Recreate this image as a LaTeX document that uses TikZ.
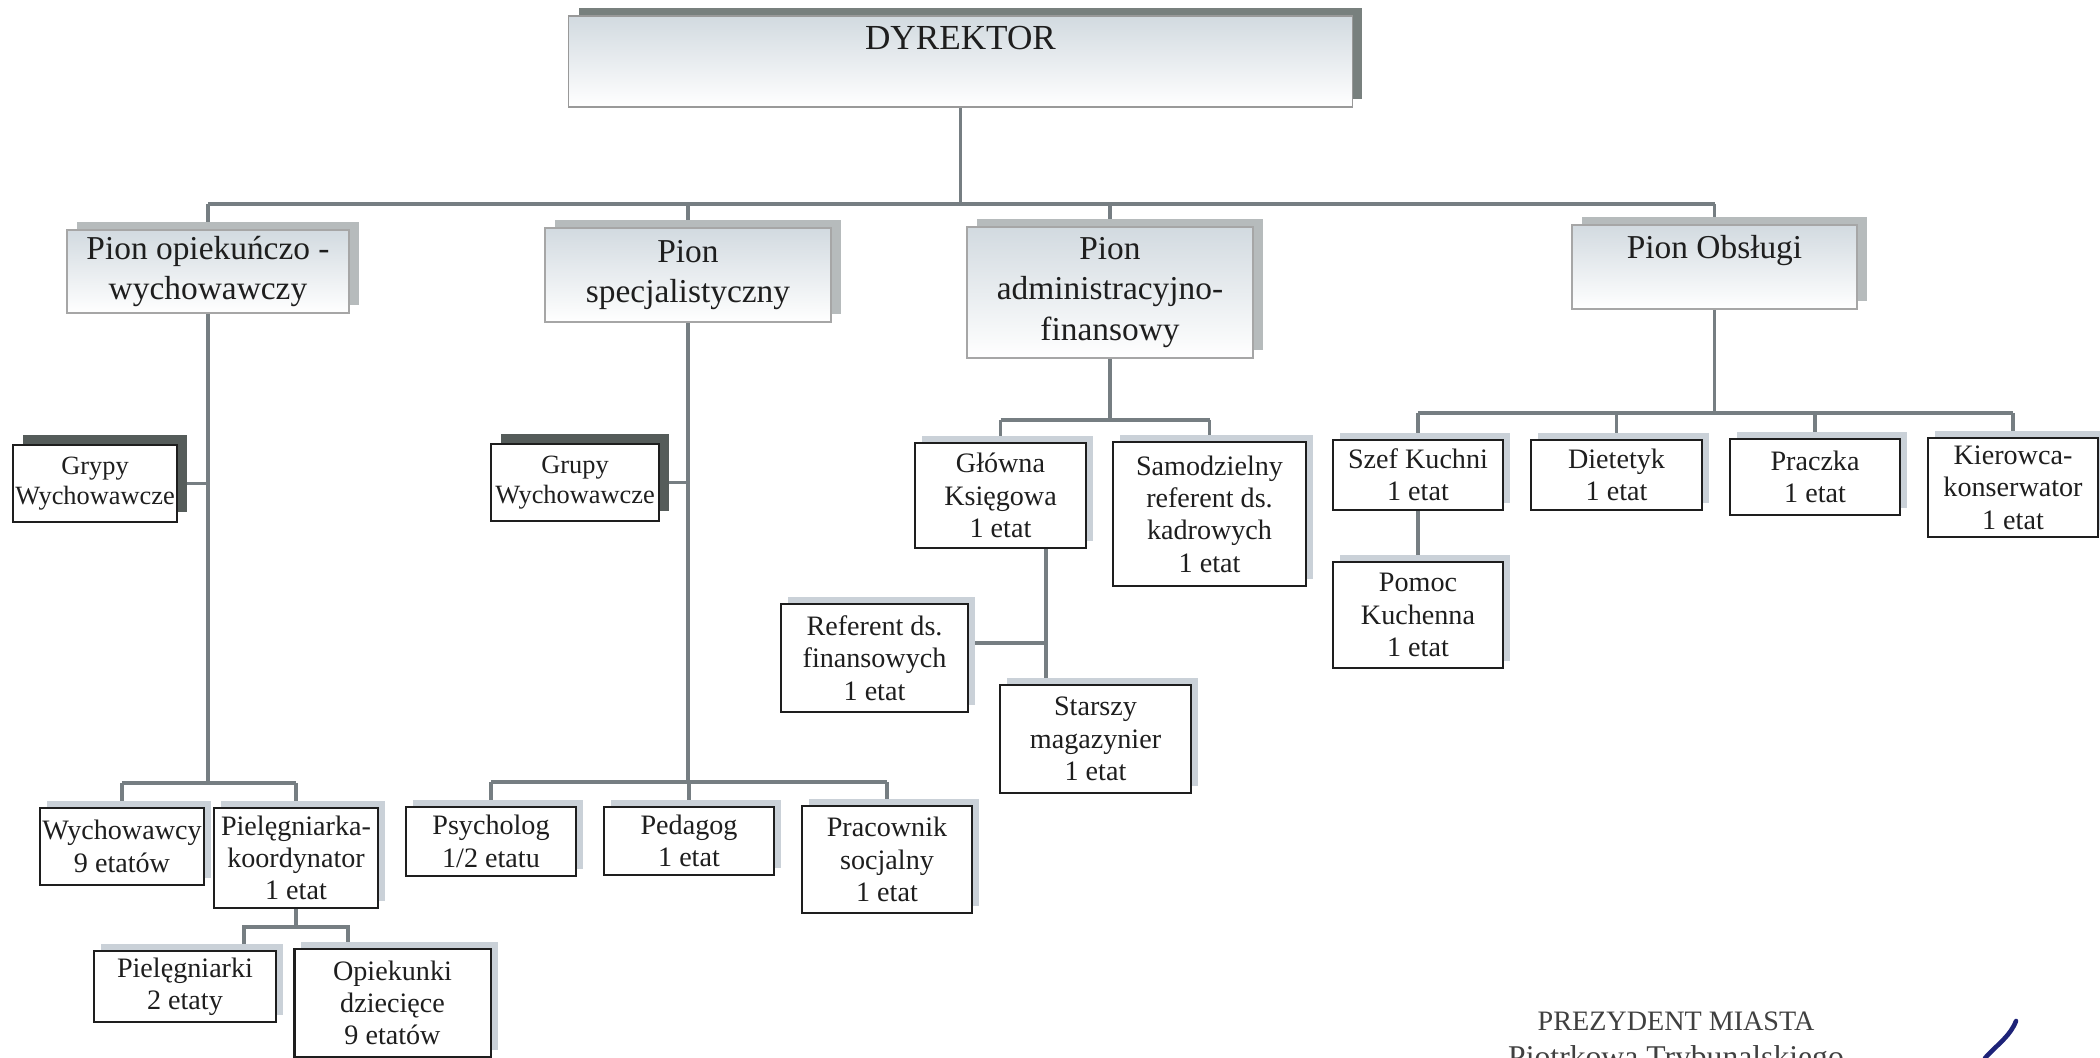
\documentclass[tikz,border=0pt]{standalone}
\usepackage{fontspec}
\setmainfont{Liberation Serif}
\usetikzlibrary{shadows,backgrounds}
\definecolor{connc}{RGB}{118,126,130}
\definecolor{shadA}{RGB}{120,128,126}
\definecolor{shadB}{RGB}{182,187,188}
\definecolor{shadC}{RGB}{85,92,90}
\definecolor{shadD}{RGB}{202,209,216}
\definecolor{boxtop}{RGB}{210,218,224}
\definecolor{ink}{RGB}{30,30,30}
\definecolor{pen}{RGB}{30,35,120}
\begin{document}
\begin{tikzpicture}[x=0.01cm, y=-0.01cm,
  box/.style={inner sep=0pt, align=center, text=ink},
  dyrbox/.style={box, draw=gray!80, line width=0.4pt, top color=boxtop, bottom color=white,
    general shadow={fill=shadA, shadow xshift=1mm, shadow yshift=0.8mm}, font=\fontsize{10}{12}\selectfont},
  pion/.style={box, draw=gray!70, line width=0.4pt, top color=boxtop, bottom color=white,
    general shadow={fill=shadB, shadow xshift=1mm, shadow yshift=0.8mm}, font=\fontsize{9.5}{11.5}\selectfont},
  grupa/.style={box, draw=ink, line width=0.5pt, fill=white,
    general shadow={fill=shadC, shadow xshift=1mm, shadow yshift=1mm}, font=\fontsize{7.5}{8.6}\selectfont},
  unit/.style={box, draw=ink, line width=0.6pt, fill=white,
    general shadow={fill=shadD, shadow xshift=0.7mm, shadow yshift=0.7mm}, font=\fontsize{8}{9.2}\selectfont},
  conn/.style={draw=connc, line width=1.1pt}]
  \path[use as bounding box] (0,0) rectangle (2100,1058);

  \node[dyrbox, minimum width=7.83cm, text height=0.34cm, text depth=0.57cm] (dyr) at (960.5,61.5) {DYREKTOR};

  \node[pion, minimum width=2.82cm, minimum height=0.83cm] (p1) at (208,271.5) {Pion opiekuńczo -\\wychowawczy};
  \node[pion, minimum width=2.86cm, minimum height=0.94cm] (p2) at (688,275) {Pion\\specjalistyczny};
  \node[pion, minimum width=2.86cm, minimum height=1.31cm] (p3) at (1110,292.5) {Pion\\administracyjno-\\finansowy};
  \node[pion, minimum width=2.85cm, text height=0.34cm, text depth=0.50cm] (p4) at (1714.5,267) {Pion Obsługi};

  \node[grupa, minimum width=1.64cm, minimum height=0.77cm] (gw1) at (95,483.5) {Grypy\\Wychowawcze};
  \node[grupa, minimum width=1.68cm, minimum height=0.77cm] (gw2) at (575,482.5) {Grupy\\Wychowawcze};

  \node[unit, minimum width=1.64cm, minimum height=0.77cm] (wych) at (122,846.5) {Wychowawcy\\9 etatów};
  \node[unit, minimum width=1.64cm, minimum height=1.00cm] (pk) at (296,858) {Pielęgniarka-\\koordynator\\1 etat};
  \node[unit, minimum width=1.82cm, minimum height=0.71cm] (pielki) at (185,986.5) {Pielęgniarki\\2 etaty};
  \node[unit, minimum width=1.96cm, minimum height=1.08cm] (opiek) at (392.5,1003) {Opiekunki\\dziecięce\\9 etatów};

  \node[unit, minimum width=1.70cm, minimum height=0.69cm] (psych) at (491,841.5) {Psycholog\\1/2 etatu};
  \node[unit, minimum width=1.70cm, minimum height=0.68cm] (ped) at (689,841) {Pedagog\\1 etat};
  \node[unit, minimum width=1.70cm, minimum height=1.07cm] (prac) at (887,859.5) {Pracownik\\socjalny\\1 etat};

  \node[unit, minimum width=1.71cm, minimum height=1.05cm] (gk) at (1000.5,495.5) {Główna\\Księgowa\\1 etat};
  \node[unit, minimum width=1.93cm, minimum height=1.44cm] (sam) at (1209.5,514) {Samodzielny\\referent ds.\\kadrowych\\1 etat};
  \node[unit, minimum width=1.87cm, minimum height=1.08cm] (ref) at (874.5,658) {Referent ds.\\finansowych\\1 etat};
  \node[unit, minimum width=1.91cm, minimum height=1.08cm] (star) at (1095.5,739) {Starszy\\magazynier\\1 etat};

  \node[unit, minimum width=1.70cm, minimum height=0.70cm] (szef) at (1418,475) {Szef Kuchni\\1 etat};
  \node[unit, minimum width=1.71cm, minimum height=0.70cm] (diet) at (1616.5,475) {Dietetyk\\1 etat};
  \node[unit, minimum width=1.70cm, minimum height=0.76cm] (pracz) at (1815,477) {Praczka\\1 etat};
  \node[unit, minimum width=1.70cm, minimum height=0.99cm] (kier) at (2013,487.5) {Kierowca-\\konserwator\\1 etat};
  \node[unit, minimum width=1.70cm, minimum height=1.06cm] (pomoc) at (1418,615) {Pomoc\\Kuchenna\\1 etat};

  \node[text=ink!85, font=\fontsize{8}{9}\selectfont] (stamp) at (1676,1021) {PREZYDENT MIASTA};
  \node[text=ink!85, font=\fontsize{9}{11}\selectfont] (city) at (1676,1060) {Piotrkowa Trybunalskiego};
  \draw[pen, line width=1.3pt, line cap=round] (1985,1058) .. controls (2000,1042) and (2010,1036) .. (2016,1021);

  \begin{scope}[on background layer]
    \coordinate (b0) at (0,204);
    \draw[conn] (dyr.south) -- (dyr.south |- b0);
    \draw[conn] (p1.north |- b0) -- (p4.north |- b0);
    \foreach \n in {p1,p2,p3,p4}
      \draw[conn] (\n.north |- b0) -- (\n.north);

    \coordinate (b1) at (0,783);
    \draw[conn] (p1.south) -- (p1.south |- b1);
    \draw[conn] (gw1.east) -- (gw1.east -| p1.south);
    \draw[conn] (wych.north |- b1) -- (pk.north |- b1);
    \foreach \n in {wych,pk}
      \draw[conn] (\n.north |- b1) -- (\n.north);
    \coordinate (b2) at (244,927);
    \coordinate (b2r) at (348,927);
    \draw[conn] (pk.south) -- (pk.south |- b2);
    \draw[conn] (b2 |- pielki.north) -- (b2) -- (b2r) -- (b2r |- opiek.north);

    \coordinate (b3) at (0,782);
    \draw[conn] (p2.south) -- (p2.south |- b3);
    \draw[conn] (gw2.east) -- (gw2.east -| p2.south);
    \draw[conn] (psych.north |- b3) -- (prac.north |- b3);
    \foreach \n in {psych,ped,prac}
      \draw[conn] (\n.north |- b3) -- (\n.north);

    \coordinate (b4) at (0,420);
    \draw[conn] (p3.south) -- (p3.south |- b4);
    \draw[conn] (gk.north |- b4) -- (sam.north |- b4);
    \foreach \n in {gk,sam}
      \draw[conn] (\n.north |- b4) -- (\n.north);
    \coordinate (gkd) at (1046,643);
    \draw[conn] (gkd |- gk.south) -- (gkd |- star.north);
    \draw[conn] (gkd -| ref.east) -- (gkd);

    \coordinate (b5) at (0,413);
    \draw[conn] (p4.south) -- (p4.south |- b5);
    \draw[conn] (szef.north |- b5) -- (kier.north |- b5);
    \foreach \n in {szef,diet,pracz,kier}
      \draw[conn] (\n.north |- b5) -- (\n.north);
    \draw[conn] (szef.south) -- (pomoc.north);
  \end{scope}
\end{tikzpicture}
\end{document}
